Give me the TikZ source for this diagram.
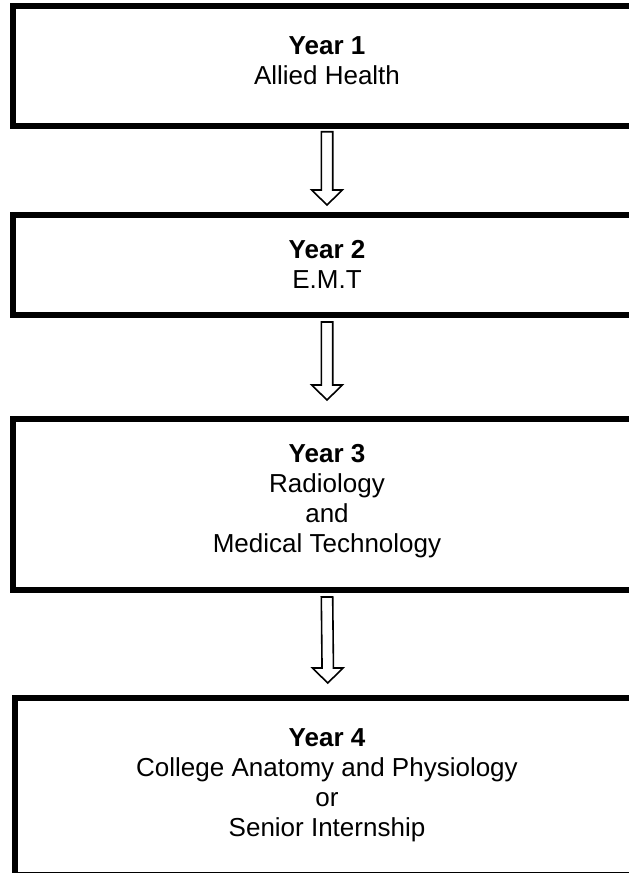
\documentclass[tikz,border=0pt]{standalone}
\usepackage{fontspec}
\setmainfont{Liberation Sans}
\usetikzlibrary{calc}
\newcommand\hollowarrow[2]{%
  \draw[hollow] ($(#1)+(-5.7,0)$) -- ($(#2)+(-5.7,-15)$) -- ($(#2)+(-15.3,-15)$) -- (#2)
    -- ($(#2)+(15.3,-15)$) -- ($(#2)+(5.7,-15)$) -- ($(#1)+(5.7,0)$) -- cycle;}
\begin{document}
\begin{tikzpicture}[x=1pt,y=-1pt,
  stage/.style={draw=black, line width=6pt, rectangle, inner sep=0pt, outer sep=0pt},
  lbl/.style={align=center, font=\fontsize{26}{30}\selectfont, inner sep=0pt},
  hollow/.style={draw=black, line width=1.6pt, fill=white, line join=miter}]
\useasboundingbox (0,0) rectangle (629,873);
\clip (0,0) rectangle (629,873);
% boxes
\node[stage, minimum width=628pt, minimum height=119.7pt] (y1) at (327,66.15) {};
\node[stage, minimum width=628pt, minimum height=100.5pt] (y2) at (327,264.75) {};
\node[stage, minimum width=628pt, minimum height=171pt] (y3) at (327,504.5) {};
\node[stage, minimum width=626.5pt, minimum height=177pt] (y4) at (327.75,786.5) {};
% texts
\node[lbl] (t1) at (327,61) {\textbf{Year 1}\\Allied Health};
\node[lbl] (t2) at (327,264) {\textbf{Year 2}\\E.M.T};
\node[lbl] (t3) at (327,501.5) {\textbf{Year 3}\\Radiology\\and\\Medical Technology};
\node[lbl] (t4) at (327,785) {\textbf{Year 4}\\College Anatomy and Physiology\\or\\Senior Internship};
% arrows
\coordinate (a1s) at ($(y1.south)+(0,5.7)$);
\coordinate (a1e) at ($(y2.north)+(0,-9.5)$);
\coordinate (a2s) at ($(y2.south)+(0,7)$);
\coordinate (a2e) at ($(y3.north)+(0,-19)$);
\coordinate (a3s) at ($(y3.south)+(0,7)$);
\coordinate (a3e) at ($(y4.north)+(0,-15)$);
\hollowarrow{a1s}{a1e}
\hollowarrow{a2s}{a2e}
\hollowarrow{a3s}{a3e}
\end{tikzpicture}
\end{document}
